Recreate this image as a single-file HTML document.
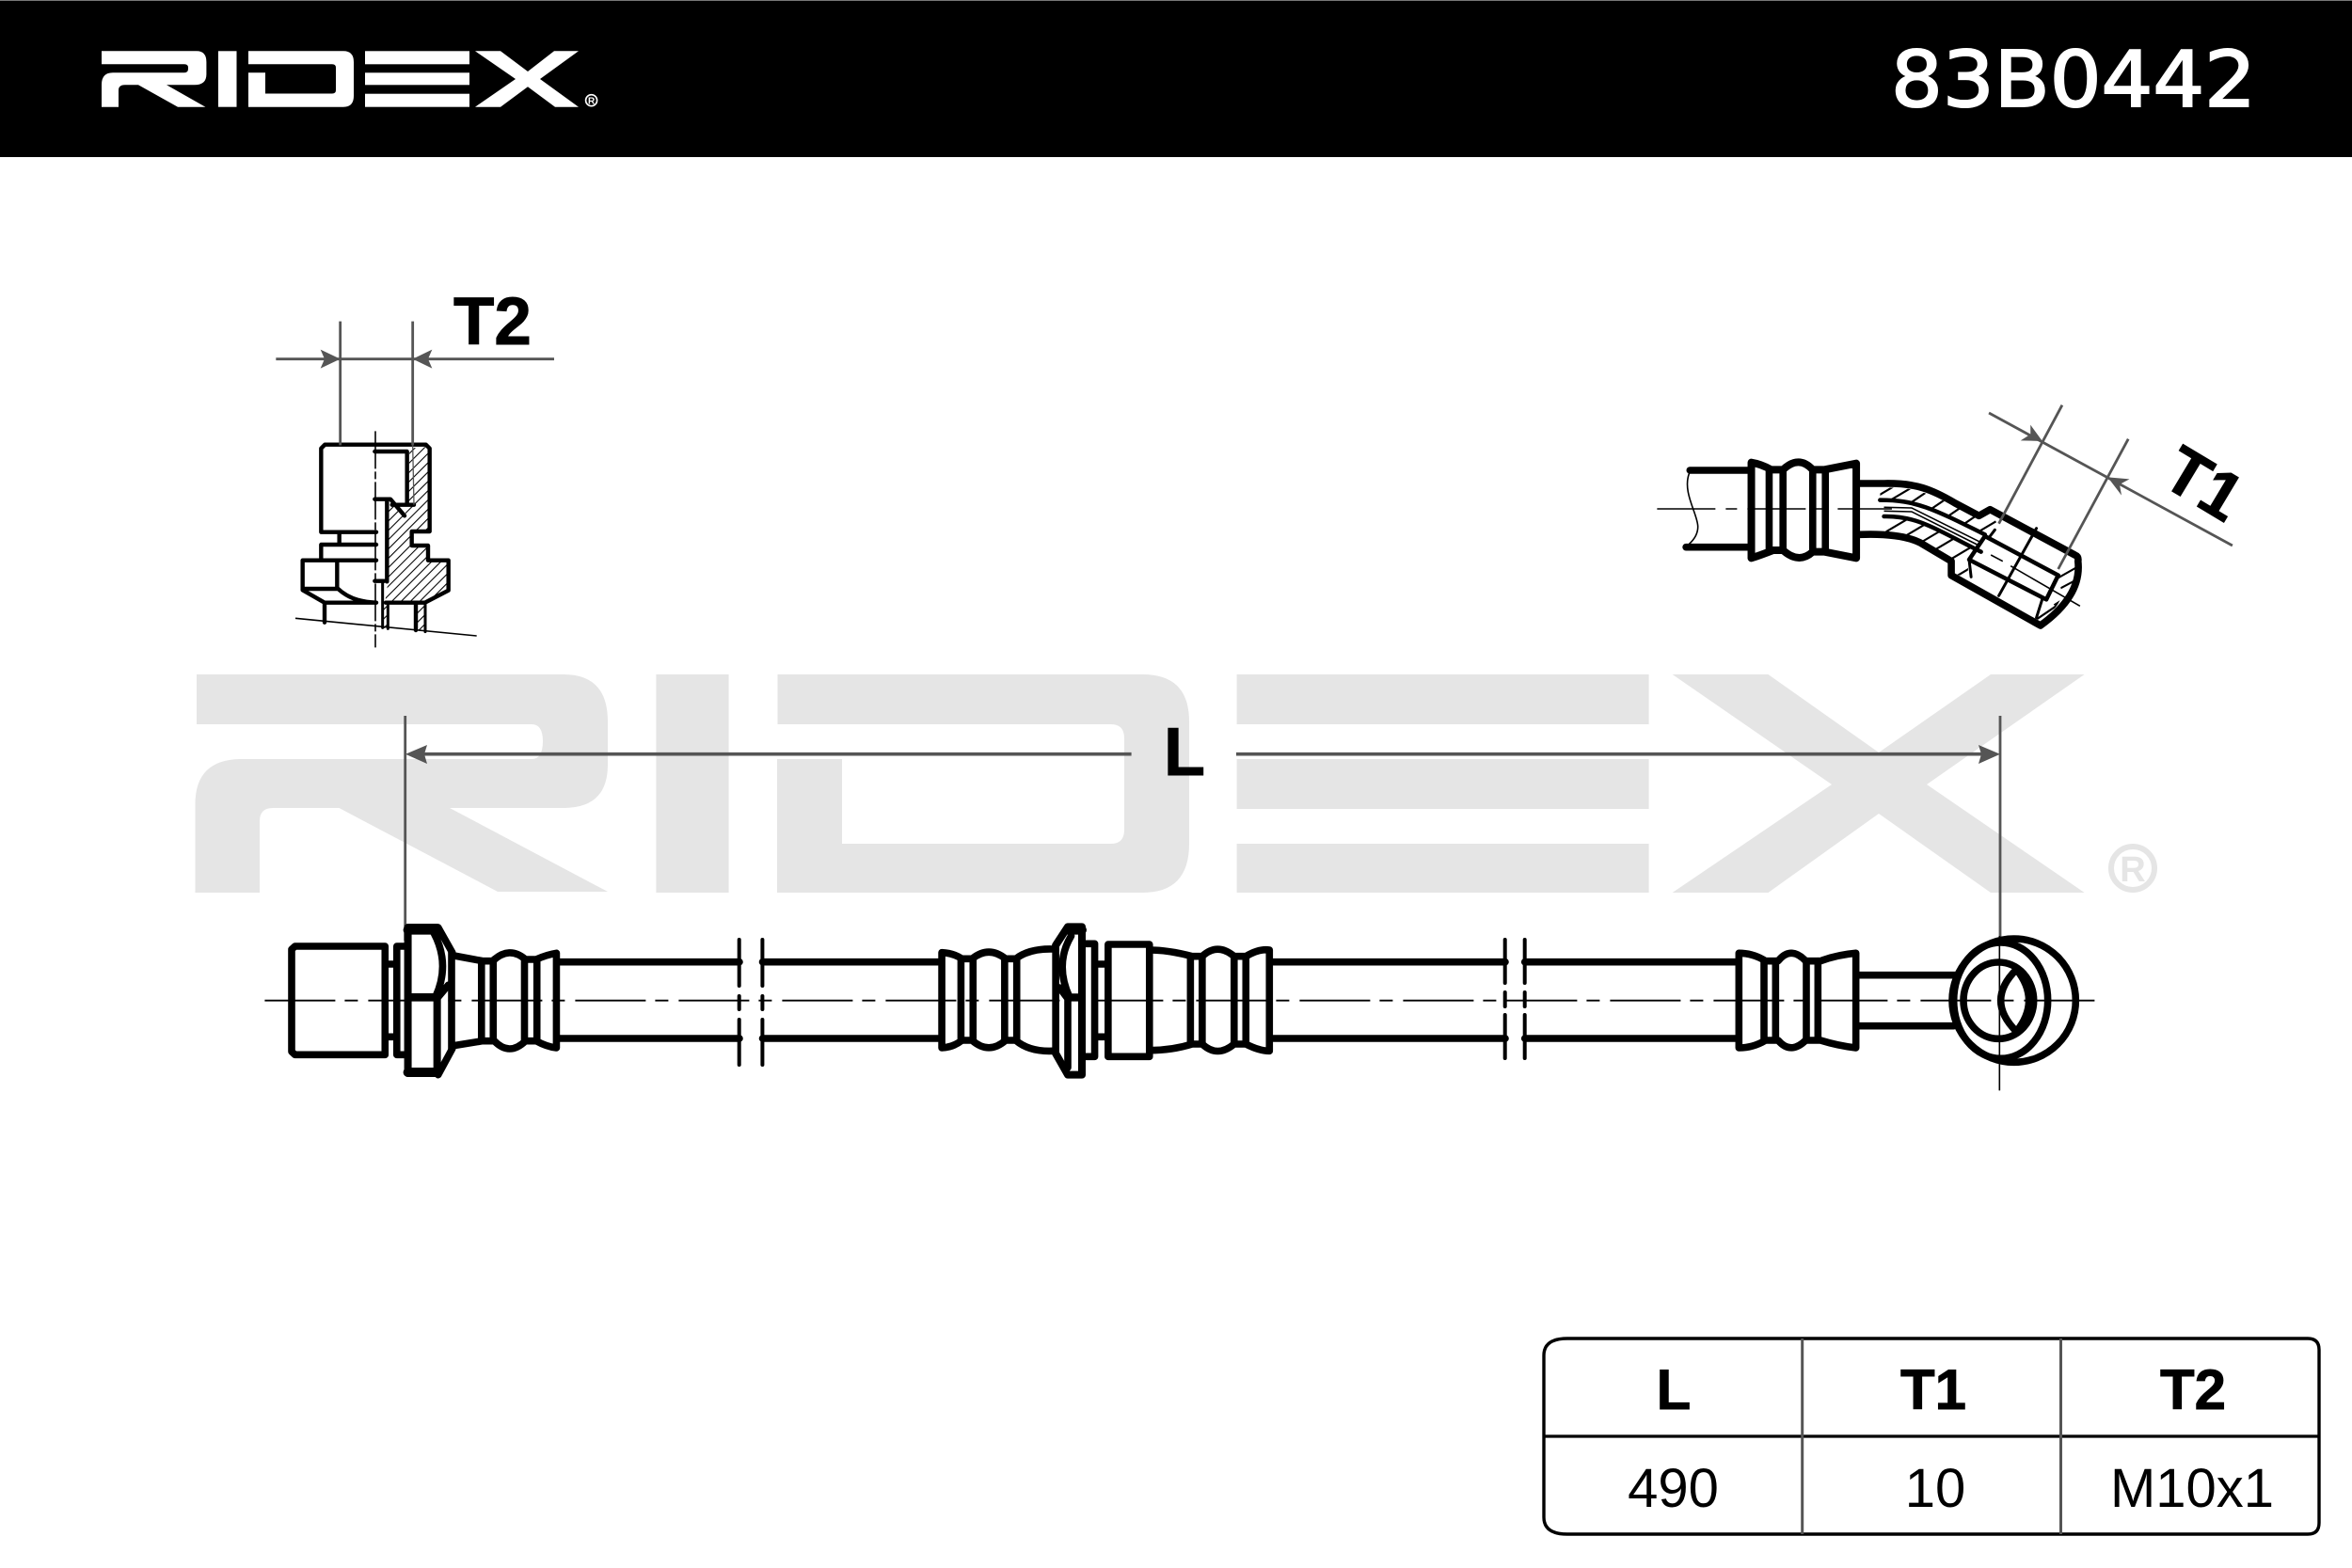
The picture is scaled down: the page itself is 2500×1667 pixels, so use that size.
<!DOCTYPE html>
<html><head><meta charset="utf-8"><style>
html,body{margin:0;padding:0;background:#fff}
svg{display:block}
.b{fill:none;stroke:#000;stroke-width:7.6;stroke-linejoin:round;stroke-linecap:round;vector-effect:non-scaling-stroke}
.s{fill:none;stroke:#000;stroke-width:4.4;stroke-linejoin:round;stroke-linecap:round;vector-effect:non-scaling-stroke}
.m{fill:none;stroke:#000;stroke-width:4;stroke-linecap:round;stroke-linejoin:round;vector-effect:non-scaling-stroke}
.t{fill:none;stroke:#000;stroke-width:1.6;vector-effect:non-scaling-stroke}
.d{fill:none;stroke:#555;stroke-width:2.8;vector-effect:non-scaling-stroke}
.a{fill:#555;stroke:none}
.bt{font-family:"Liberation Sans",sans-serif;font-weight:bold;fill:#000;stroke:#000;stroke-width:.9}
</style></head><body>
<svg xmlns="http://www.w3.org/2000/svg" width="2500" height="1667" viewBox="0 0 2500 1667">
<rect width="2500" height="1667" fill="#fff"/>
<!-- header -->
<rect width="2500" height="167" fill="#000"/>
<rect width="2500" height="1" fill="#777"/>
<g fill="#fff">
<path d="M108 54.3H209Q219.4 54.3 219.4 66V79Q219.4 90.3 206.6 90.3H177L218.4 113.7H189L147 90.3H133Q126 90.3 126 96V113.7H108V90Q108 77.3 120 77.3H196Q200 77.3 200 73V72Q200 68.3 196 68.3H108Z"/>
<rect x="232" y="54.3" width="19.5" height="59.4"/>
<path d="M264 54.3H365Q376 54.3 376 66V102Q376 113.7 365 113.7H264V77.3H282V99.5H353Q357 99.5 357 96V72Q357 68.3 353 68.3H264Z"/>
<rect x="388" y="54.3" width="111" height="14"/><rect x="388" y="77.3" width="111" height="13"/><rect x="388" y="99.7" width="111" height="14"/>
<path d="M505 54.3H532L561 76L589 54.3H615L574 84L615 113.7H590L561 92.3L532 113.7H505L548 84Z"/>
</g>
<circle cx="628.6" cy="106.7" r="6" fill="none" stroke="#fff" stroke-width="1.6"/>
<text x="628.6" y="110.5" font-family="Liberation Sans,sans-serif" font-weight="bold" font-size="10" fill="#fff" text-anchor="middle">R</text>
<text x="2010" y="113" font-family="DejaVu Sans,sans-serif" font-size="82" fill="#fff" stroke="#fff" stroke-width="2" textLength="388" lengthAdjust="spacingAndGlyphs">83B0442</text>

<!-- watermark -->
<g fill="#e5e5e5">
<path d="M209 717H599Q646 717 646 767V813Q646 859 599 859H478L646 948H529L360.5 859H290Q276 859 276 873V949H207.5V855Q207.5 807 257 807H565Q577 807 577 788Q577 770 565 770H209Z"/>
<rect x="697.4" y="717" width="77.2" height="232"/>
<path d="M826.5 717H1214.5Q1264 717 1264 767V897Q1264 949 1214.5 949H826V807H895V897H1181Q1195 897 1195 882V785Q1195 770 1181 770H826.5Z"/>
<rect x="1314.6" y="717" width="438" height="53"/><rect x="1314.6" y="807" width="438" height="53"/><rect x="1314.6" y="897" width="438" height="52"/>
<path d="M1777.7 717H1879.5L1997 800L2116 717H2215.6L2048 834L2215.6 949H2116L1997 865L1879.5 949H1777.7L1947 834Z"/>
</g>
<ellipse cx="2267" cy="923" rx="23" ry="23" fill="none" stroke="#e5e5e5" stroke-width="6"/>
<text x="2267" y="937" font-family="Liberation Sans,sans-serif" font-weight="bold" font-size="38" fill="#e5e5e5" text-anchor="middle">R</text>

<!-- L dimension -->
<line class="d" x1="430.7" y1="761" x2="430.7" y2="1000"/>
<line class="d" x1="2126" y1="761" x2="2126" y2="1000"/>
<line x1="450" y1="801.7" x2="1202.6" y2="801.7" stroke="#555" stroke-width="3.6"/>
<line x1="1314" y1="801.7" x2="2107" y2="801.7" stroke="#555" stroke-width="3.6"/>
<path class="a" d="M431 801.7L454 792L451 801.7L454 812Z"/>
<path class="a" d="M2126 801.7L2103 792L2106 801.7L2103 812Z"/>
<text class="bt" x="1259" y="824" font-size="72" text-anchor="middle">L</text>

<!-- T2 detail -->
<text class="bt" x="482" y="366" font-size="71">T2</text>
<g transform="translate(270,300) scale(.33333)">
<defs>
<clipPath id="sec"><path d="M496 530L555 525V790H498V842H553V892H615V980L540 1020H418L428 950V700L480 745L490 710Z"/><rect x="516" y="1022" width="30" height="90"/><rect x="410" y="1022" width="17" height="82"/></clipPath>
<pattern id="hat" width="21" height="21" patternUnits="userSpaceOnUse" patternTransform="rotate(45)"><rect width="3.2" height="21" fill="#000"/></pattern>
</defs>
<rect x="380" y="500" width="260" height="640" fill="url(#hat)" clip-path="url(#sec)"/>
<path class="s" d="M390 797H214V530L226 518H548L560 530V795H503V840H555V887H620V983L545 1022H420"/>
<path class="s" d="M272 797V835M390 837H214V887M390 887H155V982L225 1022H390M265 887V975M155 978H265M265 975Q310 1020 390 1022M225 1022V1085M385 540H488V708M385 692H435L480 745M440 710H510"/>
<path class="s" d="M424 692V955M385 953H415M516 1022V1110"/>
<path class="s" style="stroke-width:3" d="M410 955V1102M427 1022V1105M546 1022V1115"/>
<line class="t" x1="132" y1="1072" x2="710" y2="1128"/>
<line class="t" x1="387" y1="475" x2="387" y2="1165" stroke-dasharray="40 3 8 3"/>
<line class="d" x1="275" y1="125" x2="275" y2="520"/>
<line class="d" x1="506" y1="125" x2="506" y2="520"/>
<line class="d" x1="506" y1="520" x2="510" y2="710" style="stroke-width:1.3"/>
<line class="d" x1="70" y1="245" x2="957" y2="245"/>
<path class="a" d="M275 245L212 215L225 245L212 275Z"/>
<path class="a" d="M506 245L568 215L555 245L568 275Z"/>
</g>

<!-- T1 detail -->
<text class="bt" transform="translate(2330,535) rotate(31)" font-size="71" text-anchor="middle">T1</text>
<g transform="translate(1750,400) scale(.42088,.33333)">
<defs>
<clipPath id="h1"><path d="M590 355H620C690 355 730 385 838 450L868 432L885 468L868 495L855 505C720 420 680 395 590 395Z"/></clipPath>
<clipPath id="h2"><path d="M604 450C680 445 720 480 845 560L815 590L810 640L772 630V590L690 525Q640 498 604 495Z"/></clipPath>
<clipPath id="h3"><path d="M1040 625L1088 585V650L1050 695L1040 640ZM985 770L1010 712L1050 695Q1040 745 990 785Z"/></clipPath>
</defs>
<g clip-path="url(#h1)" stroke="#000" stroke-width="6"><path fill="none" d="M560 400L640 340M610 400L690 340M660 410L730 350M700 440L770 380M740 465L810 405M780 490L850 430M820 510L900 450"/></g>
<g clip-path="url(#h2)" stroke="#000" stroke-width="6"><path fill="none" d="M600 500L680 440M640 520L720 460M680 540L760 480M720 560L800 500M760 590L840 530M780 640L860 580"/></g>
<g clip-path="url(#h3)" stroke="#000" stroke-width="6"><path fill="none" d="M1030 650L1100 600M1040 680L1100 640M1030 730L1080 690M980 780L1050 720M1000 790L1060 740"/></g>
<!-- hose -->
<path class="b" d="M110 300H260M100 545H260"/>
<path class="t" d="M108 310C90 370 130 440 130 480Q130 510 108 535"/>
<path class="b" style="stroke-width:8" d="M265 275Q290 280 315 298H345Q385 250 420 298H450L530 278V580L450 560H420Q385 600 345 555H320Q290 570 265 580Z"/>
<path class="b" d="M310 300V555M345 300V555M420 300V555M452 300V560"/>
<!-- tube + nut -->
<path class="b" d="M538 342H600C680 340 720 360 780 405L840 445L868 425L1082 570Q1092 575 1090 590Q1100 700 995 795L770 635V590L690 530Q640 500 538 505"/>
<path class="b" style="stroke-width:4.5" d="M590 395C680 395 720 420 855 505M600 447C680 445 720 480 845 560"/>
<path class="t" d="M600 418L670 420L845 530M600 430L670 432L840 540"/>
<path class="b" style="stroke-width:4.5" d="M855 510L1040 635L1010 712L815 585Z"/>
<path class="b" style="stroke-width:3" d="M880 490L868 510M985 485L890 700M815 585L820 640M1000 710L985 770"/>
<path class="t" d="M870 570L900 590M920 605L1095 733"/>
<line class="t" x1="27" y1="423" x2="620" y2="423" stroke-dasharray="62 11 12 11"/>
<!-- dim -->
<line class="d" x1="865" y1="117" x2="1480" y2="540"/>
<line class="d" x1="1050" y1="92" x2="890" y2="470"/>
<line class="d" x1="1217" y1="200" x2="1040" y2="615"/>
<path class="a" d="M1000 207L945 205L970 185L970 155Z"/>
<path class="a" d="M1165 322L1220 328L1195 345L1200 380Z"/>
</g>

<!-- Main hose: centre line -->
<line x1="281.4" y1="1063.7" x2="2226.7" y2="1063.7" stroke="#000" stroke-width="1.8" stroke-dasharray="75 10 14 11"/>
<path class="b" d="M595 1022.7H786M595 1104H786M810.5 1022.7H997M810.5 1104H997M1353.6 1022.7H1600M1353.6 1104H1600M1620.7 1022.7H1845M1620.7 1104H1845"/>
<path class="m" d="M785.7 999V1048M785.7 1059V1073M785.7 1084V1132M810.4 999V1048M810.4 1059V1073M810.4 1084V1132"/>
<path class="m" d="M1599.7 999V1045M1599.7 1055V1070M1599.7 1079V1125M1620.7 999V1045M1620.7 1055V1070M1620.7 1079V1125"/>

<g transform="translate(270,960) scale(.35714,.33333)">
<path class="b" d="M122 138H390V484H122L112 474V148Z"/>
<path class="b" d="M390 195H420M390 427H420M455 138H425V484H455"/>
<path class="b" style="stroke-width:8" d="M458 78V543H545V300H458M458 78H545"/>
<path class="b" style="stroke-width:10" d="M458 86H540M458 540H540"/>
<path class="b" d="M548 78L590 158M548 548L590 465M535 95Q585 195 540 300M548 300L578 262"/>
<path class="b" d="M588 158V465M595 168L680 185H710Q760 135 808 180H840Q870 165 900 160V462Q870 458 840 440H808Q760 490 715 440H680L595 455"/>
<path class="b" d="M677 185V440M712 185V440M805 185V440M842 185V440"/>
</g>

<g transform="translate(960,960) scale(.35714,.33333)">
<path class="b" d="M115 158Q150 160 175 178H205Q255 135 305 178H335Q375 145 445 147H452M115 158V462Q150 460 175 438H205Q255 485 305 438H335Q375 475 445 472H452"/>
<path class="b" d="M172 180V440M208 180V440M302 180V440M338 180V440M454 135V480"/>
<path class="b" style="stroke-width:8" d="M454 135L490 76H532V548H490L454 480"/>
<path class="b" style="stroke-width:10" d="M490 86H532"/>
<path class="b" d="M500 105Q450 195 495 300H530M490 300V525M465 270L490 305"/>
<path class="b" d="M540 130H570V490H540M570 195H605M570 427H605"/>
<path class="b" d="M610 132H733V490H610Z"/>
<path class="b" d="M733 150Q790 150 860 170H890Q935 125 985 170H1020Q1060 145 1090 150V472Q1060 472 1020 450H985Q935 495 890 450H860Q800 470 733 470"/>
<path class="b" d="M855 175V445M890 175V445M985 175V445M1020 175V445"/>
</g>

<g transform="translate(1780,960) scale(.33333)">
<path class="b" d="M205 160Q250 160 290 185H330Q370 135 418 185H465Q520 165 578 160V462Q520 455 465 438H418Q370 485 330 438H290Q250 462 205 462Z"/>
<path class="b" d="M285 185V435M322 185V435M420 185V435M457 185V435"/>
<path class="b" d="M590 230H895M590 392H890"/>
<circle class="b" cx="1082" cy="311" r="197"/>
<ellipse class="b" cx="1040" cy="311" rx="150" ry="185"/>
<ellipse class="b" cx="1033" cy="311" rx="112" ry="122"/>
<path class="b" d="M1090 212Q990 311 1090 410Q1170 311 1090 212"/>
<line class="t" x1="1036" y1="105" x2="1036" y2="598"/>
</g>

<!-- table -->
<path d="M1666 1423H2453Q2465 1423 2465 1435V1619Q2465 1631 2453 1631H1666Q1641 1631 1641 1613V1441Q1641 1423 1666 1423Z" fill="none" stroke="#000" stroke-width="3.4"/>
<line x1="1641" y1="1527" x2="2465" y2="1527" stroke="#000" stroke-width="3.2"/>
<line x1="1915.7" y1="1423" x2="1915.7" y2="1631" stroke="#555" stroke-width="3"/>
<line x1="2190.5" y1="1423" x2="2190.5" y2="1631" stroke="#555" stroke-width="3"/>
<g class="bt" font-size="60" text-anchor="middle">
<text x="1779" y="1498">L</text><text x="2055" y="1498">T1</text><text x="2331" y="1498">T2</text>
</g>
<g font-family="Liberation Sans,sans-serif" font-size="58" text-anchor="middle" fill="#000">
<text x="1778.5" y="1602">490</text><text x="2057" y="1602">10</text><text x="2330" y="1602">M10x1</text>
</g>
</svg>
</body></html>
